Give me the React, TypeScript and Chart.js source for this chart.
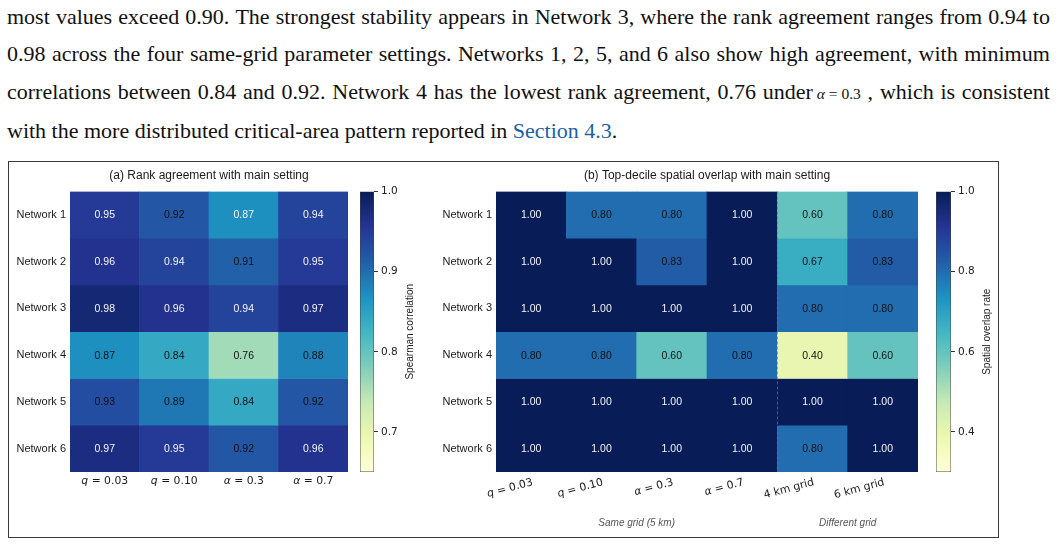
import React, { useEffect, useRef } from 'react';
import { Chart, registerables } from 'chart.js';

Chart.register(...registerables);

// ---------------- data ----------------
const networks = ['Network 1', 'Network 2', 'Network 3', 'Network 4', 'Network 5', 'Network 6'];

const settingsA = ['q = 0.03', 'q = 0.10', 'α = 0.3', 'α = 0.7'];
const spearman = [
  [0.95, 0.92, 0.87, 0.94],
  [0.96, 0.94, 0.91, 0.95],
  [0.98, 0.96, 0.94, 0.97],
  [0.87, 0.84, 0.76, 0.88],
  [0.93, 0.89, 0.84, 0.92],
  [0.97, 0.95, 0.92, 0.96],
];
const rangeA = [0.65, 1.0];
const ticksA = [0.7, 0.8, 0.9, 1.0];

const settingsB = ['q = 0.03', 'q = 0.10', 'α = 0.3', 'α = 0.7', '4 km grid', '6 km grid'];
const overlap = [
  [1.0, 0.8, 0.8, 1.0, 0.6, 0.8],
  [1.0, 1.0, 0.83, 1.0, 0.67, 0.83],
  [1.0, 1.0, 1.0, 1.0, 0.8, 0.8],
  [0.8, 0.8, 0.6, 0.8, 0.4, 0.6],
  [1.0, 1.0, 1.0, 1.0, 1.0, 1.0],
  [1.0, 1.0, 1.0, 1.0, 0.8, 1.0],
];
const rangeB = [0.3, 1.0];
const ticksB = [0.4, 0.6, 0.8, 1.0];
const groupsB = [
  { label: 'Same grid (5 km)', first: 0, last: 3 },
  { label: 'Different grid', first: 4, last: 5 },
];

// which annotation texts are light
const lightTextA = [
  [1, 0, 1, 1],
  [1, 1, 0, 1],
  [1, 1, 1, 1],
  [0, 0, 0, 0],
  [0, 0, 0, 0],
  [1, 1, 0, 1],
];
const lightThresholdB = 0.9;

// ---------------- colormap (YlGnBu) ----------------
const YLGNBU = [
  [255, 255, 217], [237, 248, 177], [199, 233, 180], [127, 205, 187], [65, 182, 196],
  [29, 145, 192], [34, 94, 168], [37, 52, 148], [8, 29, 88],
];
function cmap(t: number) {
  const c = Math.max(0, Math.min(1, t)) * 8;
  const i = Math.min(7, Math.floor(c));
  const f = c - i;
  const a = YLGNBU[i];
  const b = YLGNBU[i + 1];
  const m = (k: number) => Math.round(a[k] + (b[k] - a[k]) * f);
  return `rgb(${m(0)},${m(1)},${m(2)})`;
}

const SANS = '"Liberation Sans", Arial, sans-serif';
const DEJAVU = '"DejaVu Sans", sans-serif';

function drawMathLabel(ctx: CanvasRenderingContext2D, label: string, x: number, y: number, align: 'center' | 'right', size: number) {
  const m = /^([qα])(\s=.*)$/.exec(label);
  const parts = m ? [{ t: m[1], it: true }, { t: m[2], it: false }] : [{ t: label, it: false }];
  const fontOf = (it: boolean) => `${it ? 'italic ' : ''}${size}px ${DEJAVU}`;
  let total = 0;
  const widths = parts.map((p) => {
    ctx.font = fontOf(p.it);
    const w = ctx.measureText(p.t).width;
    total += w;
    return w;
  });
  let cx = align === 'center' ? x - total / 2 : x - total;
  parts.forEach((p, i) => {
    ctx.font = fontOf(p.it);
    ctx.textAlign = 'left';
    ctx.fillText(p.t, cx, y);
    cx += widths[i];
  });
}

type HeatOpts = {
  title: string;
  cols: string[];
  rows: string[];
  values: number[][];
  range: number[];
  light: (i: number, j: number) => boolean;
  padL: number;
  padR: number;
  yW: number;
  rotated: boolean;
  groups?: { label: string; first: number; last: number }[];
};

function makeHeat(canvas: HTMLCanvasElement, o: HeatOpts) {
  const span = o.range[1] - o.range[0];
  const datasets = o.rows.map((name, i) => ({
    label: name,
    data: o.values[i].map(() => [i, i + 1]),
    backgroundColor: o.values[i].map((v) => cmap((v - o.range[0]) / span)),
    borderWidth: 0,
    barPercentage: 1,
    categoryPercentage: 1,
    grouped: false,
  }));

  const heatPlugin = {
    id: 'heatText',
    afterDatasetsDraw(chart: any) {
      const ctx = chart.ctx as CanvasRenderingContext2D;
      ctx.save();
      ctx.font = `10.5px ${SANS}`;
      ctx.textAlign = 'center';
      ctx.textBaseline = 'middle';
      o.rows.forEach((_, i) => {
        const meta = chart.getDatasetMeta(i);
        meta.data.forEach((el: any, j: number) => {
          const p = el.getCenterPoint();
          ctx.fillStyle = o.light(i, j) ? '#f4f4f4' : '#111111';
          ctx.fillText(o.values[i][j].toFixed(2), p.x, p.y + 0.5);
        });
      });
      ctx.restore();
    },
    afterDraw(chart: any) {
      const ctx = chart.ctx as CanvasRenderingContext2D;
      const xs = chart.scales.x;
      const area = chart.chartArea;
      ctx.save();
      if (o.groups) {
        for (let g = 0; g < o.groups.length - 1; g++) {
          const a = xs.getPixelForValue(o.groups[g].last);
          const b = xs.getPixelForValue(o.groups[g + 1].first);
          const sx = Math.round((a + b) / 2) + 0.5;
          ctx.strokeStyle = 'rgba(120,120,120,0.85)';
          ctx.lineWidth = 0.8;
          ctx.setLineDash([3, 2]);
          ctx.beginPath();
          ctx.moveTo(sx, area.top);
          ctx.lineTo(sx, area.bottom);
          ctx.stroke();
          ctx.setLineDash([]);
        }
        ctx.fillStyle = '#555';
        ctx.font = `italic 10px ${SANS}`;
        ctx.textAlign = 'center';
        ctx.textBaseline = 'middle';
        o.groups.forEach((g) => {
          const cx = (xs.getPixelForValue(g.first) + xs.getPixelForValue(g.last)) / 2;
          ctx.fillText(g.label, cx, area.bottom + 51.5);
        });
      }
      ctx.fillStyle = '#1a1a1a';
      o.cols.forEach((lab, j) => {
        const x = xs.getPixelForValue(j);
        if (o.rotated) {
          ctx.save();
          ctx.translate(x, area.bottom + 5);
          ctx.rotate((-15 * Math.PI) / 180);
          ctx.textBaseline = 'top';
          drawMathLabel(ctx, lab, 0, 0, 'right', 10.8);
          ctx.restore();
        } else {
          ctx.textBaseline = 'middle';
          drawMathLabel(ctx, lab, x, area.bottom + 9.5, 'center', 10.8);
        }
      });
      ctx.restore();
    },
  };

  return new Chart(canvas, {
    type: 'bar',
    data: { labels: o.cols, datasets: datasets as any },
    options: {
      animation: false,
      responsive: false,
      events: [],
      layout: { padding: { left: o.padL, right: o.padR, top: 6, bottom: 66 } },
      plugins: {
        legend: { display: false },
        tooltip: { enabled: false },
        title: {
          display: true,
          text: o.title,
          fullSize: false,
          color: '#1a1a1a',
          font: { family: SANS, size: 12, weight: 'normal' as any },
          padding: { top: 0, bottom: 9.1 },
        },
      },
      scales: {
        x: { type: 'category', display: false, offset: true, grid: { display: false } },
        y: {
          type: 'linear',
          min: 0,
          max: o.rows.length,
          reverse: true,
          afterBuildTicks: (s: any) => {
            s.ticks = o.rows.map((_, i) => ({ value: i + 0.5 }));
          },
          afterFit: (s: any) => {
            s.width = o.yW;
          },
          ticks: {
            autoSkip: false,
            padding: 4,
            color: '#1a1a1a',
            font: { family: SANS, size: 11 },
            callback: (_v: any, idx: number) => o.rows[idx] ?? '',
          },
          grid: { display: false, drawTicks: false },
          border: { display: false },
        },
      },
    } as any,
    plugins: [heatPlugin],
  });
}

type CbarOpts = { range: number[]; ticks: number[]; label: string; padR: number; labelX: number };

function makeCbar(canvas: HTMLCanvasElement, o: CbarOpts) {
  const labelPlugin = {
    id: 'cbLabel',
    afterDraw(chart: any) {
      const ctx = chart.ctx as CanvasRenderingContext2D;
      const a = chart.chartArea;
      ctx.save();
      ctx.translate(o.labelX, (a.top + a.bottom) / 2);
      ctx.rotate(-Math.PI / 2);
      ctx.font = `10px ${SANS}`;
      ctx.fillStyle = '#1a1a1a';
      ctx.textAlign = 'center';
      ctx.textBaseline = 'middle';
      ctx.fillText(o.label, 0, 0);
      ctx.restore();
    },
  };
  return new Chart(canvas, {
    type: 'bar',
    data: {
      labels: [o.label],
      datasets: [
        {
          data: [[o.range[0], o.range[1]]] as any,
          backgroundColor: (c: any) => {
            const area = c.chart.chartArea;
            if (!area) return '#ccc';
            const g = c.chart.ctx.createLinearGradient(0, area.bottom, 0, area.top);
            YLGNBU.forEach((_, i) => g.addColorStop(i / 8, cmap(i / 8)));
            return g;
          },
          borderColor: '#444',
          borderWidth: 0.8,
          borderSkipped: false,
          barPercentage: 1,
          categoryPercentage: 1,
        },
      ],
    },
    options: {
      animation: false,
      responsive: false,
      events: [],
      layout: { padding: { left: 10, right: o.padR, top: 29.5, bottom: 66 } },
      plugins: { legend: { display: false }, tooltip: { enabled: false } },
      scales: {
        x: { display: false },
        y: {
          position: 'right',
          min: o.range[0],
          max: o.range[1],
          afterBuildTicks: (s: any) => {
            s.ticks = o.ticks.map((v) => ({ value: v }));
          },
          afterFit: (s: any) => {
            s.width = 30;
          },
          ticks: {
            autoSkip: false,
            padding: 3,
            color: '#222',
            font: { family: DEJAVU, size: 10.5 },
            callback: (v: any) => Number(v).toFixed(1),
          },
          grid: { drawOnChartArea: false, drawTicks: true, tickLength: 4, color: '#333', lineWidth: 1 },
          border: { display: false },
        },
      },
    } as any,
    plugins: [labelPlugin],
  });
}

// ---------------- paragraph text ----------------
const line1 = 'most values exceed 0.90. The strongest stability appears in Network 3, where the rank agreement ranges from 0.94 to';
const line2 = '0.98 across the four same-grid parameter settings. Networks 1, 2, 5, and 6 also show high agreement, with minimum';
const line3a = 'correlations between 0.84 and 0.92. Network 4 has the lowest rank agreement, 0.76';
const line3b = ', which is consistent';

const SERIF = '"Liberation Serif", "Times New Roman", serif';
const FS = 22;

function JLine({ top, children }: { top: number; children: React.ReactNode }) {
  return (
    <div
      style={{
        position: 'absolute',
        left: 7,
        top,
        width: 1043,
        display: 'flex',
        justifyContent: 'space-between',
        fontFamily: SERIF,
        fontSize: FS,
        lineHeight: '26px',
        color: '#111',
        whiteSpace: 'pre',
      }}
    >
      {children}
    </div>
  );
}

const words = (s: string) => s.split(' ').map((w, i) => <span key={w + i}>{w}</span>);

export default function App() {
  const aRef = useRef<HTMLCanvasElement>(null);
  const acRef = useRef<HTMLCanvasElement>(null);
  const bRef = useRef<HTMLCanvasElement>(null);
  const bcRef = useRef<HTMLCanvasElement>(null);

  useEffect(() => {
    const charts = [
      makeHeat(aRef.current!, {
        title: '(a) Rank agreement with main setting',
        cols: settingsA,
        rows: networks,
        values: spearman,
        range: rangeA,
        light: (i, j) => lightTextA[i][j] === 1,
        padL: 10,
        padR: 2,
        yW: 60,
        rotated: false,
      }),
      makeCbar(acRef.current!, { range: rangeA, ticks: ticksA, label: 'Spearman correlation', padR: 16, labelX: 60 }),
      makeHeat(bRef.current!, {
        title: '(b) Top-decile spatial overlap with main setting',
        cols: settingsB,
        rows: networks,
        values: overlap,
        range: rangeB,
        light: (i, j) => overlap[i][j] > lightThresholdB,
        padL: 10,
        padR: 8,
        yW: 66,
        rotated: true,
        groups: groupsB,
      }),
      makeCbar(bcRef.current!, { range: rangeB, ticks: ticksB, label: 'Spatial overlap rate', padR: 17, labelX: 61 }),
    ];
    return () => charts.forEach((c) => c.destroy());
  }, []);

  const cv = (left: number, width: number): React.CSSProperties => ({
    position: 'absolute',
    left,
    top: 162,
    width,
    height: 376,
  });

  return (
    <div style={{ position: 'fixed', left: 0, top: 0, width: 1060, height: 544, overflow: 'hidden', background: '#fff' }}>
      <JLine top={3.5}>{words(line1)}</JLine>
      <JLine top={40.6}>{words(line2)}</JLine>
      <JLine top={78.8}>
        {words(line3a)}
        <span>
          under
          <span style={{ marginLeft: 4, fontSize: 15.5 }}>
            <i>α</i> = 0.3
          </span>
        </span>
        {words(line3b)}
      </JLine>
      <div
        style={{
          position: 'absolute',
          left: 7,
          top: 118,
          fontFamily: SERIF,
          fontSize: FS,
          lineHeight: '26px',
          color: '#111',
          whiteSpace: 'pre',
        }}
      >
        with the more distributed critical-area pattern reported in <span style={{ color: '#1d5fa6' }}>Section 4.3</span>.
      </div>

      <div
        style={{
          position: 'absolute',
          left: 8,
          top: 161,
          width: 991,
          height: 377,
          border: '1px solid #3a3a3a',
          boxSizing: 'border-box',
        }}
      />

      <canvas ref={aRef} width={350} height={376} style={cv(0, 350)} />
      <canvas ref={acRef} width={70} height={376} style={cv(350, 70)} />
      <canvas ref={bRef} width={506} height={376} style={cv(420, 506)} />
      <canvas ref={bcRef} width={72} height={376} style={cv(926, 72)} />
    </div>
  );
}
